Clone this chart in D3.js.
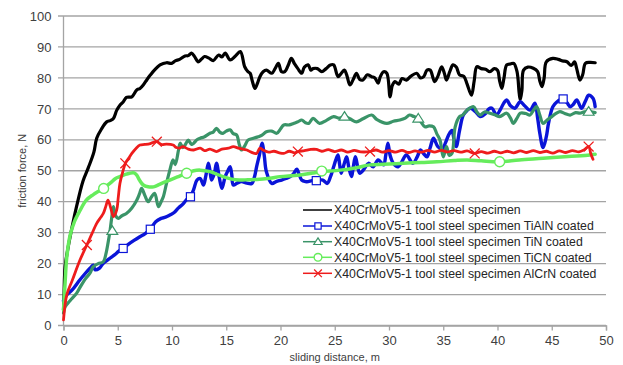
<!DOCTYPE html>
<html><head><meta charset="utf-8">
<script src="https://cdn.jsdelivr.net/npm/d3@7"></script>
<style>body{margin:0;background:#fff}svg{display:block}</style>
</head><body><svg id="c" width="623" height="365"></svg>
<script>
const xTicks=[0,5,10,15,20,25,30,35,40,45,50];
const yTicks=[0,10,20,30,40,50,60,70,80,90,100];
const seriesNames=["X40CrMoV5-1 tool steel specimen","X40CrMoV5-1 tool steel specimen TiAlN coated","X40CrMoV5-1 tool steel specimen TiN coated","X40CrMoV5-1 tool steel specimen TiCN coated","X40CrMoV5-1 tool steel specimen AlCrN coated"];
const xTitle="sliding distance, m", yTitle="friction  force, N";

const steel=[[0,5],[0.05,10],[0.15,19],[0.44,25.5],[0.8,32],[1.2,38.4],[1.8,46.7],[2.29,51],[2.8,56],[3.06,60.5],[3.5,63.5],[3.98,65.8],[4.3,66.2],[4.6,66.9],[4.9,69.5],[5.2,71.2],[5.5,72.2],[5.8,73.7],[6.3,73.9],[6.75,76.1],[7.05,76.6],[7.35,77.7],[7.7,79.5],[8.0,80.9],[8.4,82.6],[8.9,84.2],[9.5,84.9],[9.97,84.7],[10.3,85.5],[10.7,86],[11.2,87.1],[11.5,87.2],[11.8,88],[12.1,86.8],[12.4,85.2],[12.7,86],[13.0,86.9],[13.4,86.4],[13.8,85.6],[14.3,87.4],[14.6,86.8],[14.9,88],[15.35,85.8],[15.8,86.9],[16.3,88.5],[16.7,83.6],[17.0,82],[17.2,81.5],[17.4,79],[17.65,76.6],[17.9,78.5],[18.1,80.4],[18.4,82],[18.7,82.5],[19.2,81.5],[19.5,83],[19.8,84.7],[20.1,82],[20.4,82],[20.7,84],[21.0,86.3],[21.3,84.5],[21.6,83],[21.95,81.5],[22.2,83.5],[22.55,84.2],[22.8,82.5],[23.0,83],[23.4,83],[23.8,82],[24.2,83],[24.6,84.2],[24.9,84.2],[25.3,80.4],[25.6,81.5],[25.9,82.5],[26.1,81],[26.4,77.7],[26.7,79.5],[27.0,81.5],[27.3,79.5],[27.6,79.3],[28.0,81],[28.4,80.4],[28.7,80],[29.0,78.3],[29.2,80.4],[29.5,82],[29.8,81.5],[30.1,73.9],[30.3,77.5],[30.55,78.8],[30.9,78],[31.2,79.8],[31.6,79.3],[32.0,80.5],[32.55,81.5],[32.9,80],[33.2,80.4],[33.5,82.5],[33.8,82.5],[34.2,78.8],[34.5,80.5],[34.85,83.6],[35.1,81.5],[35.3,79.3],[35.6,82],[35.9,84.2],[36.2,83.5],[36.5,81],[36.9,80.5],[37.2,78],[37.6,74.4],[37.85,79],[38.1,83.6],[38.5,83],[38.9,82.8],[39.3,82],[39.7,83],[40.0,82.5],[40.2,79],[40.4,76.6],[40.6,80],[40.85,84.2],[41.2,84.5],[41.5,84.7],[41.8,82],[42.0,75],[42.1,72.9],[42.25,76],[42.4,82.5],[42.8,83.5],[43.3,83.1],[43.7,82],[43.9,79],[44.1,77.2],[44.3,80],[44.5,85.2],[45.1,86.3],[45.6,86],[46.0,85.5],[46.4,85.2],[46.8,84],[47.1,85.2],[47.3,83],[47.6,79.3],[47.85,81],[48.1,84.7],[48.5,85],[49.0,84.9]];

const tialn=[[0,8],[0.3,9.9],[0.8,11.5],[1.5,14.7],[2.0,16.8],[2.44,18.5],[2.75,19.5],[2.9,18],[3.3,18.5],[3.67,20.1],[4.2,21.5],[4.7,22.8],[5.1,24],[5.5,24.9],[6.0,26.3],[6.5,27.5],[7.0,28.6],[7.5,29.6],[8.0,31.1],[8.5,33.5],[9.0,34.6],[9.4,35],[9.8,35.7],[10.2,36.5],[10.6,38],[11.0,39.2],[11.3,40.5],[11.7,41.6],[12.0,44],[12.3,47],[12.6,47.5],[12.9,45.4],[13.1,48],[13.35,52.4],[13.5,50],[13.65,47],[13.9,49],[14.1,52.4],[14.35,48],[14.6,44.3],[14.9,48.1],[15.15,50],[15.35,51.3],[15.5,49],[15.65,45.4],[16.0,46],[16.4,46.5],[16.9,46],[17.35,45.9],[17.6,48],[17.8,51.3],[18.05,55],[18.3,58.9],[18.5,55],[18.7,49.7],[19.2,45.9],[19.6,46.5],[20.1,47],[20.5,47.5],[20.9,48.1],[21.2,49],[21.5,50.5],[21.7,49],[21.95,47],[22.3,46.5],[22.55,46.5],[22.9,46.8],[23.3,46.8],[23.9,47],[24.3,45.9],[24.6,48],[24.9,51.3],[25.1,53.5],[25.3,55.1],[25.45,52],[25.6,49.2],[25.85,52],[26.1,54.5],[26.3,51],[26.55,48.1],[26.7,51],[26.9,54.5],[27.1,51.5],[27.3,49.2],[27.7,50.5],[28.1,52.4],[28.55,51.3],[29.0,53.5],[29.5,51.9],[29.7,55],[29.9,58.9],[30.1,55],[30.4,52.4],[30.85,51.3],[31.2,53],[31.6,55.1],[32.2,52.4],[32.6,54.5],[32.9,56.7],[33.2,55.5],[33.5,54.5],[33.8,57.5],[34.1,60.5],[34.5,57.8],[34.9,57],[35.2,59],[35.5,61.6],[35.8,63],[36.0,60],[36.2,57.8],[36.5,63],[36.85,68],[37.2,69.5],[37.5,70.2],[38.0,69],[38.4,67.5],[38.9,68.5],[39.2,70],[39.5,70.2],[39.9,68],[40.3,70],[40.6,72],[40.85,72.9],[41.2,71],[41.6,70.2],[42.1,72.3],[42.5,71],[43.0,69.6],[43.45,71.8],[43.7,67],[43.9,62.1],[44.2,57.5],[44.5,61],[44.7,65.3],[45.1,70.7],[45.5,72.3],[45.75,72.9],[46.05,73],[46.4,72],[46.7,70.7],[47.0,71.5],[47.3,72.9],[47.75,70.2],[48.1,72.5],[48.4,74.4],[48.8,73.4],[49.0,70.7]];

const tin=[[0,4],[0.14,6],[0.6,8],[1.2,10.4],[1.6,12.8],[2.0,15],[2.44,16.9],[2.75,19],[3.2,20],[3.67,20.6],[3.9,23],[4.1,26.6],[4.3,30.9],[4.45,35],[4.6,38.4],[4.8,35.5],[5.05,34.6],[5.4,35.5],[5.8,36.2],[6.3,38],[6.75,40.5],[7.0,42.5],[7.2,44.3],[7.5,42],[7.8,40],[8.1,41.5],[8.4,42.7],[8.75,38.4],[9.0,40],[9.2,41.6],[9.5,46],[9.8,50.2],[10.1,53.5],[10.3,52],[10.6,56.7],[10.75,58.9],[11.0,57.5],[11.2,58.3],[11.5,59.9],[11.8,58.5],[12.0,58.9],[12.3,60],[12.6,60.5],[13.0,61],[13.5,62.1],[13.8,62.5],[14.1,63.7],[14.4,62.5],[14.7,62.1],[15.0,62.8],[15.35,63.2],[15.65,62],[15.95,61.6],[16.2,58.5],[16.4,56.7],[16.7,58],[17.0,59.9],[17.5,60.5],[17.95,61],[18.3,61.5],[18.7,62.6],[19.2,62.8],[19.65,62.1],[20.0,63.5],[20.3,64.8],[20.8,64.8],[21.2,65.3],[21.6,65.8],[21.95,66.4],[22.3,65.5],[22.6,65.3],[23.0,66.9],[23.6,65.3],[24.2,66.2],[24.9,67.5],[25.4,67],[25.9,67.5],[26.4,66.8],[27.0,65.8],[27.6,66.8],[28.4,68],[28.9,66.5],[29.8,65.3],[30.4,66],[31.0,66.4],[31.5,67],[31.9,68],[32.3,67.5],[32.7,66.9],[33.0,65.5],[33.3,64.2],[33.7,64.5],[34.1,64.2],[34.4,62],[34.7,59.9],[35.0,54.5],[35.3,57.8],[35.55,55],[35.8,55.6],[36.1,64.2],[36.5,67.5],[36.8,68],[37.2,69.6],[37.8,70.7],[38.1,69],[38.4,68],[38.8,69],[39.3,68.6],[39.8,68],[40.2,67.5],[40.85,68.6],[41.2,67],[41.45,65.3],[41.8,67],[42.1,68.6],[42.6,68.5],[43.0,68],[43.3,69.5],[43.6,70.7],[43.9,68],[44.2,65.3],[44.6,66.5],[45.0,67.5],[45.4,68.5],[45.75,69.1],[46.2,68.5],[46.7,68],[47.2,68.8],[47.6,68.6],[48.0,69],[48.4,69.1],[49.0,68.8]];

const ticn=[[0,5],[0.15,14],[0.3,22],[0.6,29],[1.0,33.5],[1.5,37],[2.1,40.5],[2.75,42.3],[3.2,43.3],[3.67,44.3],[4.3,46],[4.8,47.5],[5.2,48.1],[5.7,48.8],[6.1,49.2],[6.5,49.3],[6.75,48.6],[7.0,47],[7.35,45.4],[7.8,44.8],[8.3,44.8],[8.8,45.5],[9.3,46.3],[9.8,47],[10.5,48],[11.35,49.2],[12.0,50],[12.6,50.2],[13.5,49.7],[14.7,48.1],[15.5,47.3],[16.2,47],[17.0,47.1],[17.8,47.2],[19.0,47.6],[19.95,48.1],[21.0,48.4],[21.8,48.6],[23.0,49.3],[23.8,49.7],[25.5,50.2],[27.0,51],[28.25,51.9],[30.0,52.2],[31.3,52.4],[33.0,52.7],[34.4,52.9],[36.0,53.3],[37.2,53.5],[38.5,53.2],[40.2,52.9],[42.0,53.5],[44.2,54],[46.5,54.6],[48.5,55.1],[49.0,55.3]];

const alcrn=[[0,1.8],[0.3,9.9],[0.8,14.5],[1.5,21],[2.15,26],[2.6,29.5],[3.06,33],[3.4,34.8],[3.67,36.2],[3.9,38.5],[4.1,40.5],[4.35,38],[4.6,35.2],[4.9,37.3],[5.05,41.5],[5.2,45.9],[5.45,49.5],[5.7,52.4],[6.0,54],[6.3,55.6],[6.7,57.3],[7.05,58.3],[7.5,58.5],[8.0,58.8],[8.6,59.4],[9.0,58.5],[9.5,58.6],[10.1,58.3],[10.4,57.5],[10.7,57.3],[11.0,57.8],[11.5,57],[12.0,56.7],[12.6,57.3],[13.0,56.5],[13.5,57],[14.1,56.2],[14.6,57],[15.2,57.3],[15.65,57.8],[16.2,57.2],[16.9,56.7],[17.3,56],[17.8,55.6],[18.1,57.3],[18.4,56.7],[18.9,56],[19.4,56.3],[19.9,55.8],[20.3,55.6],[20.8,56.3],[21.3,55.8],[21.6,56.2],[22.2,56.5],[22.8,56.9],[23.3,56.9],[23.8,56.3],[24.4,56.8],[25.0,56.2],[25.6,56.7],[26.2,56],[26.8,56.6],[27.4,56.1],[28.25,56.2],[28.8,56.7],[29.4,56],[30.0,56.5],[30.6,56],[31.2,56.6],[31.8,55.9],[32.4,56.4],[33.0,56],[33.6,56.6],[34.2,56],[34.8,56.6],[35.4,56.1],[36.0,56.5],[36.6,56],[37.2,56.4],[37.9,55.6],[38.5,56.2],[39.1,55.7],[39.7,56.3],[40.3,55.8],[40.9,56.3],[41.5,55.8],[42.1,56.4],[42.7,55.9],[43.3,56.5],[43.9,55.9],[44.5,56.3],[45.1,55.7],[45.7,56.4],[46.3,55.9],[46.9,56.5],[47.5,56.1],[48.0,56.8],[48.4,57.8],[48.6,55.5],[48.8,53.7]];

const tialnMarks=[[5.5,24.9],[8.0,31.1],[11.7,41.6],[23.3,46.8],[46.05,73.2]];
const tinMarks=[[4.5,30.6],[25.9,67.5],[32.7,66.9],[48.4,69.1]];
const ticnMarks=[[3.7,44.3],[11.35,49.2],[23.8,49.9],[40.2,52.9]];
const alcrnMarks=[[2.15,26],[5.7,52.4],[8.6,59.4],[21.6,56.2],[28.25,56.2],[37.9,55.6],[48.4,57.8]];

const colors=["#000000","#0a14d8","#3a9468","#66ec5c","#ee1c1c"];
const widths=[3.2,3.4,3.2,3.5,2.8];
const datasets=[steel,tialn,tin,ticn,alcrn];
const markSets=[null,tialnMarks,tinMarks,ticnMarks,alcrnMarks];
const markTypes=[null,"square","triangle","circle","cross"];

const svg=d3.select("#c");
const x=d3.scaleLinear().domain([0,50]).range([63.5,606]);
const y=d3.scaleLinear().domain([0,100]).range([325.5,16]);
const font="'Liberation Sans', Arial, sans-serif";

svg.append("g").selectAll("line").data(yTicks).join("line")
 .attr("x1",58).attr("x2",606).attr("y1",d=>y(d)).attr("y2",d=>y(d))
 .attr("stroke","#a4a4a4").attr("stroke-width",1.3);
svg.append("line").attr("x1",x(0)).attr("x2",x(0)).attr("y1",y(0)).attr("y2",y(100)).attr("stroke","#a4a4a4").attr("stroke-width",1.3);
const xa=svg.append("g").attr("transform",`translate(0,${y(0)})`).call(d3.axisBottom(x).tickValues(xTicks).tickSize(5).tickPadding(5));
xa.select(".domain").attr("stroke","#a4a4a4").attr("stroke-width",1.3);
xa.selectAll(".tick line").attr("stroke","#a4a4a4").attr("stroke-width",1.3);
xa.selectAll("text").attr("font-family",font).attr("font-size",13).attr("fill","#404040");
const ya=svg.append("g").attr("transform",`translate(${x(0)},0)`).call(d3.axisLeft(y).tickValues(yTicks).tickSize(0).tickPadding(12));
ya.select(".domain").remove();
ya.selectAll("text").attr("font-family",font).attr("font-size",13).attr("fill","#404040");

svg.append("text").attr("x",(x(0)+x(50))/2).attr("y",361).attr("text-anchor","middle")
 .attr("font-family",font).attr("font-size",11).attr("fill","#404040").text(xTitle);
svg.append("text").attr("transform",`translate(26,${(y(0)+y(100))/2}) rotate(-90)`).attr("text-anchor","middle")
 .attr("font-family",font).attr("font-size",11).attr("fill","#404040").text(yTitle);

const line=d3.line().x(d=>x(d[0])).y(d=>y(d[1])).curve(d3.curveCatmullRom.alpha(0.5));
const lg=svg.append("g");
datasets.forEach((ds,i)=>{
  lg.append("path").datum(ds).attr("d",line).attr("fill","none").attr("stroke",colors[i])
   .attr("stroke-width",widths[i]).attr("stroke-linejoin","round").attr("stroke-linecap","round");
});

function drawMarker(g,type,cx,cy,col,s){
  if(type==="square") g.append("rect").attr("x",cx-s*0.45).attr("y",cy-s*0.45).attr("width",s*0.9).attr("height",s*0.9).attr("fill","#fff").attr("stroke",col).attr("stroke-width",1.2);
  else if(type==="triangle") g.append("path").attr("d",`M${cx},${cy-s*0.55}L${cx+s*0.6},${cy+s*0.4}L${cx-s*0.6},${cy+s*0.4}Z`).attr("fill","#fff").attr("stroke",col).attr("stroke-width",1.2);
  else if(type==="circle") g.append("circle").attr("cx",cx).attr("cy",cy).attr("r",s*0.55).attr("fill","#fff").attr("stroke",col).attr("stroke-width",1.4);
  else if(type==="cross") g.append("path").attr("d",`M${cx-s*0.55},${cy-s*0.55}L${cx+s*0.55},${cy+s*0.55}M${cx-s*0.55},${cy+s*0.55}L${cx+s*0.55},${cy-s*0.55}`).attr("stroke",col).attr("stroke-width",1.3);
}
const mg=svg.append("g");
markSets.forEach((ms,i)=>{ if(!ms) return; ms.forEach(p=>drawMarker(mg,markTypes[i],x(p[0]),y(p[1]),colors[i],9)); });

const legY=[210,226,241.7,257.3,273.3];
const leg=svg.append("g");
seriesNames.forEach((n,i)=>{
  leg.append("line").attr("x1",303).attr("x2",332).attr("y1",legY[i]).attr("y2",legY[i]).attr("stroke",colors[i]).attr("stroke-width",1.5);
  if(markTypes[i]) drawMarker(leg,markTypes[i],318,legY[i],colors[i],7);
  leg.append("text").attr("x",334).attr("y",legY[i]).attr("dy","0.35em").attr("font-family",font).attr("font-size",12.3).attr("fill","#262626").text(n);
});
</script></body></html>
